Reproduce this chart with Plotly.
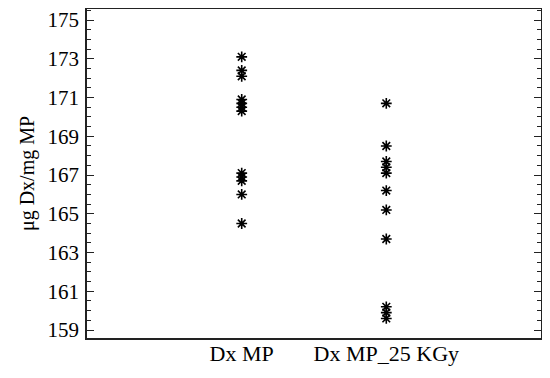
import plotly.graph_objects as go

groups = ["Dx MP", "Dx MP_25 KGy"]
dx_mp = [173.1, 172.4, 172.1, 170.9, 170.7, 170.5, 170.3, 167.1, 166.9, 166.7, 166.0, 164.5]
dx_mp_25kgy = [170.7, 168.5, 167.7, 167.4, 167.1, 166.2, 165.2, 163.7, 160.2, 159.9, 159.6]

font_family = "Liberation Serif"

fig = go.Figure()
for name, vals in zip(groups, [dx_mp, dx_mp_25kgy]):
    fig.add_trace(
        go.Scatter(
            x=[name] * len(vals),
            y=vals,
            mode="markers",
            name=name,
            marker=dict(symbol="asterisk-open", size=9, color="black",
                        line=dict(color="black", width=1.6)),
        )
    )

# page adds an 8px body margin, so the figure is sized to fit inside it
fig.update_layout(
    width=534,
    height=362,
    plot_bgcolor="white",
    paper_bgcolor="white",
    showlegend=False,
    margin=dict(l=79, r=1, t=1, b=32),
    font=dict(family=font_family, size=20, color="black"),
)

fig.update_xaxes(
    type="category",
    categoryorder="array",
    categoryarray=groups,
    range=[-1.07, 2.07],
    showline=True,
    linecolor="#222",
    linewidth=1.5,
    mirror=True,
    ticks="",
    showgrid=False,
    automargin=False,
    ticklabelstandoff=-5,
    tickfont=dict(size=22),
)
fig.update_yaxes(
    range=[158.59, 175.57],
    tick0=159,
    dtick=2,
    ticks="inside",
    ticklen=7,
    tickwidth=1.3,
    tickcolor="#222",
    minor=dict(dtick=0.5, ticks="inside", ticklen=4, tickwidth=1.2, tickcolor="#222"),
    showline=True,
    linecolor="#222",
    linewidth=1.5,
    mirror="ticks",
    showgrid=False,
    zeroline=False,
    automargin=False,
    ticklabelstandoff=2,
    ticklabeloverflow="allow",
    tickfont=dict(size=21),
    title=dict(text="μg Dx/mg MP", font=dict(size=20), standoff=8),
)

fig.write_html("out.html")
